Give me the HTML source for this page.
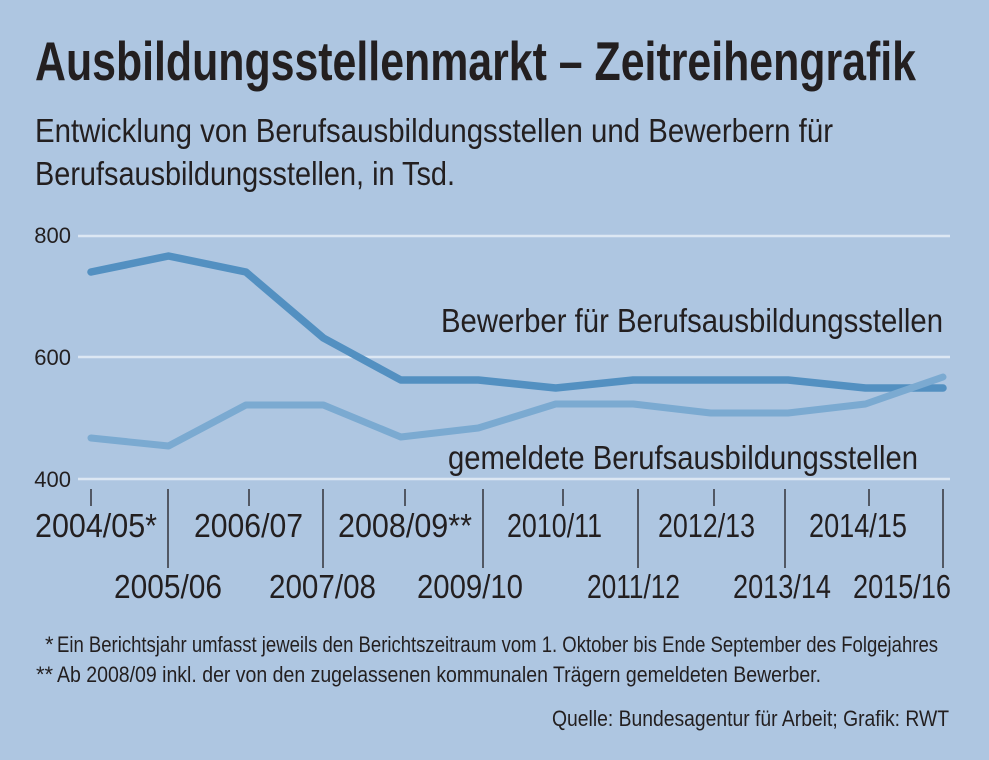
<!DOCTYPE html>
<html>
<head>
<meta charset="utf-8">
<style>
html,body{margin:0;padding:0;background:#aec6e1;}
svg{display:block;}
text{font-family:"Liberation Sans",sans-serif;fill:#231f20;}
</style>
</head>
<body>
<svg width="989" height="760" viewBox="0 0 989 760" xmlns="http://www.w3.org/2000/svg">
<rect x="0" y="0" width="989" height="760" fill="#aec6e1"/>

<!-- Title -->
<text x="35" y="80" font-size="55" font-weight="bold" textLength="881" lengthAdjust="spacingAndGlyphs">Ausbildungsstellenmarkt – Zeitreihengrafik</text>
<text x="35" y="142" font-size="33" textLength="798" lengthAdjust="spacingAndGlyphs">Entwicklung von Berufsausbildungsstellen und Bewerbern für</text>
<text x="35" y="185" font-size="33" textLength="420" lengthAdjust="spacingAndGlyphs">Berufsausbildungsstellen, in Tsd.</text>

<!-- Gridlines -->
<g stroke="#dce7f3" stroke-width="2.5">
<line x1="78" y1="236" x2="950" y2="236"/>
<line x1="78" y1="357" x2="950" y2="357"/>
<line x1="78" y1="479" x2="950" y2="479"/>
</g>

<!-- Y labels -->
<g font-size="22" text-anchor="end">
<text x="71" y="243">800</text>
<text x="71" y="365">600</text>
<text x="71" y="487">400</text>
</g>

<!-- Series -->
<polyline fill="none" stroke="#5390c1" stroke-width="7.5" stroke-linecap="round" stroke-linejoin="round"
points="91,272 168.5,256 245.9,272 323.4,338 400.8,380 478.3,380 555.7,388 633.2,380 710.6,380 788,380 865.5,388 943,388"/>
<polyline fill="none" stroke="#7baad1" stroke-width="7" stroke-linecap="round" stroke-linejoin="round"
points="91,438 168.5,446 245.9,405 323.4,405 400.8,437 478.3,428 555.7,404 633.2,404 710.6,413 788,413 865.5,404 943,377"/>

<!-- Series labels -->
<text x="441" y="332" font-size="33" textLength="502" lengthAdjust="spacingAndGlyphs">Bewerber für Berufsausbildungsstellen</text>
<text x="448" y="469" font-size="33" textLength="470" lengthAdjust="spacingAndGlyphs">gemeldete Berufsausbildungsstellen</text>

<!-- Ticks -->
<g stroke="#2a2a2e" stroke-width="1.4">
<line x1="91" y1="489" x2="91" y2="506"/>
<line x1="249" y1="489" x2="249" y2="506"/>
<line x1="405" y1="489" x2="405" y2="506"/>
<line x1="563" y1="489" x2="563" y2="506"/>
<line x1="714" y1="489" x2="714" y2="506"/>
<line x1="869" y1="489" x2="869" y2="506"/>
<line x1="168" y1="489" x2="168" y2="568"/>
<line x1="323" y1="489" x2="323" y2="568"/>
<line x1="483" y1="489" x2="483" y2="568"/>
<line x1="638" y1="489" x2="638" y2="568"/>
<line x1="785" y1="489" x2="785" y2="568"/>
<line x1="943" y1="489" x2="943" y2="568"/>
</g>

<!-- X labels -->
<g font-size="33">
<text x="35" y="537" textLength="122" lengthAdjust="spacingAndGlyphs">2004/05*</text>
<text x="194" y="537" textLength="109" lengthAdjust="spacingAndGlyphs">2006/07</text>
<text x="338" y="537" textLength="134" lengthAdjust="spacingAndGlyphs">2008/09**</text>
<text x="507" y="537" textLength="95" lengthAdjust="spacingAndGlyphs">2010/11</text>
<text x="658" y="537" textLength="97" lengthAdjust="spacingAndGlyphs">2012/13</text>
<text x="809" y="537" textLength="98" lengthAdjust="spacingAndGlyphs">2014/15</text>
<text x="114" y="598" textLength="108" lengthAdjust="spacingAndGlyphs">2005/06</text>
<text x="269" y="598" textLength="107" lengthAdjust="spacingAndGlyphs">2007/08</text>
<text x="417" y="598" textLength="106" lengthAdjust="spacingAndGlyphs">2009/10</text>
<text x="587" y="598" textLength="93" lengthAdjust="spacingAndGlyphs">2011/12</text>
<text x="733" y="598" textLength="98" lengthAdjust="spacingAndGlyphs">2013/14</text>
<text x="853" y="598" textLength="98" lengthAdjust="spacingAndGlyphs">2015/16</text>
</g>

<!-- Footnotes -->
<g font-size="22">
<text x="45" y="652">*</text>
<text x="57" y="652" textLength="881" lengthAdjust="spacingAndGlyphs">Ein Berichtsjahr umfasst jeweils den Berichtszeitraum vom 1. Oktober bis Ende September des Folgejahres</text>
<text x="36" y="682">**</text>
<text x="57" y="682" textLength="764" lengthAdjust="spacingAndGlyphs">Ab 2008/09 inkl. der von den zugelassenen kommunalen Trägern gemeldeten Bewerber.</text>
<text x="552" y="726" textLength="397" lengthAdjust="spacingAndGlyphs">Quelle: Bundesagentur für Arbeit; Grafik: RWT</text>
</g>
</svg>
</body>
</html>
